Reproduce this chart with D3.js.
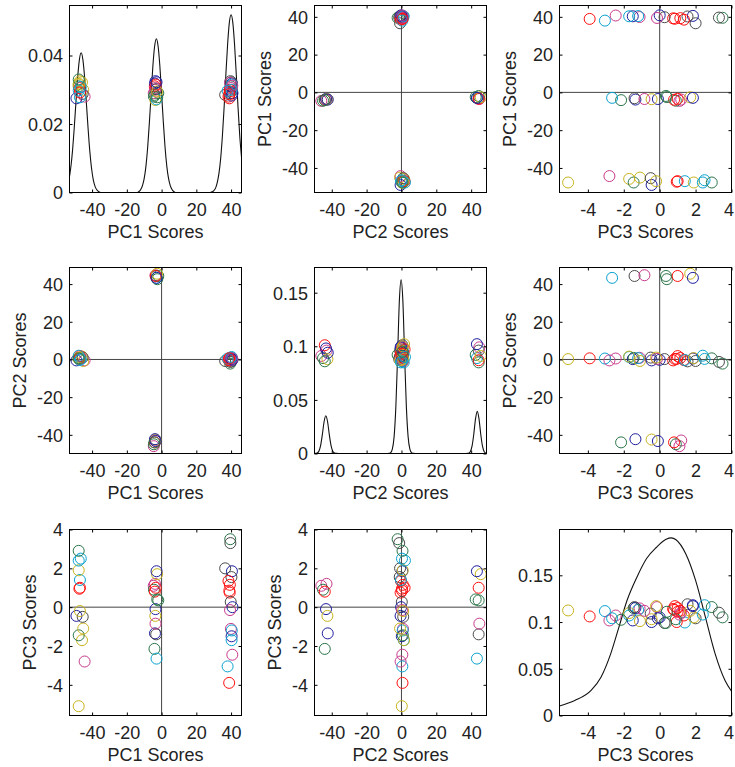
<!DOCTYPE html>
<html><head><meta charset="utf-8">
<script src="https://cdn.jsdelivr.net/npm/d3@7"></script>
<style>
body{margin:0;background:#fff}
svg{display:block}
text{font-family:"Liberation Sans",Arial,Helvetica,sans-serif}
</style>
</head><body>
<svg id="chart" width="735" height="767"></svg>
<script>
// ---------- DATA ----------
// Order: cluster A (PC1~40), cluster B (PC1~-47), cluster C (PC2~-43), cluster D (PC2~43)
const pc1 = [39.5,39.6,36.6,40.5,40.2,38.5,39.3,39.0,39.2,39.8,40.8,39.4,39.9,40.4,40.3,40.3,40.7,38.0,38.9,
  -47.7,-44.3,-45.8,-47.7,-45.1,-45.4,-49.0,-47.0,-47.3,-47.0,-47.0,-47.7,-47.7,-46.5,-47.7,
  -3.8,-4.5,-4.4,-3.9,-3.5,-3.6,-3.8,-4.1,
  -2.9,-3.1,-3.5,-1.9,-2.5,-3.4,-2.6,-2.9];
const pc2 = [-2.2,-1.3,-0.8,0.5,-1.0,-0.3,0.8,0.3,-0.5,0.2,-0.2,0.3,0.9,0.7,0.2,1.3,0.5,0.5,0.6,
  0.2,-0.5,1.5,0.8,-0.8,1.0,-0.5,1.0,0.3,1.8,-0.3,0.7,2.0,0.3,0.6,
  -43.0,-46.0,-45.0,-44.0,-43.3,-42.5,-42.3,-44.0,
  43.3,44.3,44.7,44.3,42.6,44.3,45.5,43.3];
const pc3 = [3.5,3.3,2.0,1.85,1.55,1.35,1.15,0.85,0.75,0.27,0.0,-0.15,-1.12,-1.2,-1.5,-1.7,-2.45,-3.05,-3.9,
  -5.1,-2.8,-1.7,-1.45,-1.1,-0.5,-0.45,-0.2,0.95,1.0,1.4,1.9,2.4,2.5,2.9,
  1.2,1.1,0.9,0.8,-0.1,-0.45,-1.35,-2.15,
  -2.65,-1.4,-0.85,0.35,0.4,1.0,1.7,1.85];
const grp = ["g","k","k","b","k","r","r","r","r","k","b","m","m","c","b","c","m","c","r",
  "y","m","y","g","y","k","b","y","r","r","c","y","c","c","g",
  "m","m","g","r","b","y","b","g",
  "c","k","m","g","g","r","y","b"];
// vertical positions of the points in the three density panels
const diag1Y = [0.0290,0.0325,0.0285,0.0318,0.0322,0.0280,0.0295,0.0275,0.0300,0.0310,0.0290,0.0320,0.0305,0.0315,0.0283,0.0300,0.0312,0.0297,0.0287,
  0.0318,0.0280,0.0322,0.0310,0.0300,0.0288,0.0275,0.0325,0.0305,0.0292,0.0278,0.0315,0.0298,0.0308,0.0330,
  0.0300,0.0290,0.0280,0.0310,0.0325,0.0270,0.0318,0.0285,
  0.0272,0.0302,0.0305,0.0290,0.0278,0.0315,0.0295,0.0322];
const diag2Y = [0.092,0.088,0.096,0.101,0.090,0.094,0.086,0.098,0.092,0.089,0.100,0.095,0.087,0.097,0.091,0.085,0.099,0.093,0.090,
  0.096,0.089,0.102,0.091,0.087,0.094,0.099,0.088,0.093,0.097,0.085,0.100,0.090,0.086,0.095,
  0.096,0.091,0.089,0.101,0.098,0.088,0.094,0.086,
  0.089,0.096,0.099,0.085,0.092,0.087,0.091,0.102];
const diag3Y = [0.105,0.110,0.104,0.118,0.119,0.107,0.112,0.117,0.114,0.099,0.105,0.116,0.1146,0.113,0.1017,0.107,0.107,0.1117,0.106,
  0.1124,0.1017,0.1096,0.115,0.101,0.109,0.100,0.117,0.100,0.111,0.0995,0.105,0.108,0.118,0.116,
  0.110,0.108,0.103,0.113,0.104,0.103,0.115,0.1024,
  0.104,0.116,0.112,0.099,0.111,0.115,0.112,0.117];
// density curves
const dens1X = [-53,-52,-51.3,-50.3,-49.3,-48.3,-47.3,-46.3,-45.3,-44.3,-43.3,-42.3,-41.3,-40.3,-39.3,-38.3,-37.3,-36.3,-35,
  -14,-13,-12,-11,-10,-9,-8,-7,-6,-5,-4,-3,-2,-1,0,1,2,3,4,5,6,7,8,
  28,29,30,31,32,33,34,35,36,37,38,39,40,41,42,43,44,45,46];
const dens1Y = [0.0046,0.0084,0.0120,0.0187,0.0263,0.0336,0.0388,0.0408,0.0388,0.0336,0.0263,0.0187,0.0120,0.0070,0.0037,0.0018,0.0008,0.0003,0,
  0,0.0003,0.0009,0.0020,0.0041,0.0077,0.0132,0.0206,0.0289,0.0370,0.0427,0.0449,0.0427,0.0370,0.0289,0.0206,0.0132,0.0077,0.0041,0.0020,0.0009,0.0003,0,
  0,0.0002,0.0005,0.0012,0.0028,0.0055,0.0099,0.0165,0.0249,0.0344,0.0432,0.0496,0.0519,0.0496,0.0432,0.0344,0.0249,0.0165,0.0104];
const dens2X = [-49.9,-49,-48.4,-47.4,-46.4,-45.4,-44.4,-43.4,-42.4,-41.4,-40.4,-39.4,-38.4,-37.4,-36,
  -8,-7.2,-6.2,-5.2,-4.2,-3.2,-2.2,-1.2,-0.2,0.8,1.8,2.8,3.8,4.8,5.8,6.8,8,
  37,38,38.5,39.5,40.5,41.5,42.5,43.5,44.5,45.5,46.5,47.5,48.5,48.8];
const dens2Y = [0,0.0002,0.0005,0.0022,0.0074,0.0176,0.0296,0.0352,0.0296,0.0176,0.0074,0.0022,0.0005,0.0001,0,
  0,0.0001,0.0008,0.0043,0.016,0.0442,0.0919,0.1426,0.162,0.1426,0.0919,0.0442,0.016,0.0043,0.0008,0.0001,0,
  0,0.0001,0.0003,0.0017,0.0068,0.018,0.0323,0.0393,0.0323,0.018,0.0068,0.0017,0.0003,0.0002];
const dens3X = [-5.58,-4.73,-3.82,-3.27,-2.73,-2.27,-1.82,-1.27,-0.73,-0.18,0.36,0.64,0.91,1.45,2.0,2.55,3.09,3.64,4.0];
const dens3Y = [0.0102,0.016,0.0268,0.041,0.066,0.0946,0.123,0.148,0.168,0.180,0.1885,0.190,0.188,0.173,0.1445,0.105,0.066,0.0375,0.026];

const varNames = ["PC1 Scores","PC2 Scores","PC3 Scores"];
const scoreTicks = [-40,-20,0,20,40];
const pc3Ticks = [-4,-2,0,2,4];
const dens1Ticks = [0,0.02,0.04];
const dens2Ticks = [0,0.05,0.1,0.15];
const dens3Ticks = [0,0.05,0.1,0.15];

// ---------- STYLE / LAYOUT ----------
const colorMap = {r:"#ff1010", c:"#0aa2cf", m:"#c83a8c", b:"#1e1e9e", k:"#4a4a4a", g:"#2b7649", y:"#c9b41e"};
const colX = [69,314,559], rowY = [5,267,529], W = 172, H = [187,186,186];
const varDomains = [[-53,46],[-49.9,48.8],[-5.58,4.0]];
const densDomains = [[0,0.0546],[0,0.1735],[0,0.199]];
const FS = 18;
const SVG_W = 735;

const vars = [pc1,pc2,pc3];
const diagY = [diag1Y,diag2Y,diag3Y];
const densX = [dens1X,dens2X,dens3X], densY = [dens1Y,dens2Y,dens3Y];
const varTicks = [scoreTicks,scoreTicks,pc3Ticks];
const densTicks = [dens1Ticks,dens2Ticks,dens3Ticks];
const ylabOffset = [44,44,34];

const svg = d3.select("#chart");
const fmt = d => String(d);

for (let i=0;i<3;i++){
  for (let j=0;j<3;j++){
    const x0 = colX[j], y0 = rowY[i], h = H[i];
    const g = svg.append("g").attr("transform",`translate(${x0+0.5},${y0+0.5})`);
    const xs = d3.scaleLinear().domain(varDomains[j]).range([0,W]);
    const isDiag = i===j;
    const ys = d3.scaleLinear().domain(isDiag?densDomains[i]:varDomains[i]).range([h,0]);
    const clipId = `clip${i}${j}`;
    g.append("clipPath").attr("id",clipId).append("rect").attr("width",W).attr("height",h);
    const plot = g.append("g").attr("clip-path",`url(#${clipId})`);

    // axes
    const xt = varTicks[j], yt = isDiag?densTicks[i]:varTicks[i];
    const ax = g.append("g").attr("transform",`translate(0,${h})`)
      .call(d3.axisBottom(xs).tickValues(xt).tickFormat(fmt).tickSize(-3).tickPadding(11.2));
    const ay = g.append("g")
      .call(d3.axisLeft(ys).tickValues(yt).tickFormat(fmt).tickSize(-3).tickPadding(6.5));
    const at = g.append("g").call(d3.axisTop(xs).tickValues(xt).tickFormat("").tickSize(-3));
    const ar = g.append("g").attr("transform",`translate(${W},0)`)
      .call(d3.axisRight(ys).tickValues(yt).tickFormat("").tickSize(-3));
    [ax,ay,at,ar].forEach(a=>{
      a.attr("font-family",null).attr("font-size",null);
      a.select(".domain").remove();
      a.selectAll("line").attr("stroke","#000");
      a.selectAll("text").attr("fill","#222").style("font-size",FS+"px");
    });
    ay.selectAll("text").attr("dy","0.35em");
    // keep the right-most tick label inside the page
    ax.selectAll("text").each(function(){
      const bb = this.getBBox();
      const ctm = this.getCTM();
      const right = ctm.e + bb.x + bb.width;
      if (right > SVG_W - 1) d3.select(this).attr("dx", (SVG_W - 1 - right));
    });

    if (!isDiag){
      // zero lines
      plot.append("line").attr("x1",xs(0)).attr("x2",xs(0)).attr("y1",0).attr("y2",h)
        .attr("stroke","#444").attr("stroke-width",1);
      plot.append("line").attr("x1",0).attr("x2",W).attr("y1",ys(0)).attr("y2",ys(0))
        .attr("stroke","#444").attr("stroke-width",1);
    } else {
      const line = d3.line().x(d=>xs(d[0])).y(d=>ys(d[1])).curve(d3.curveMonotoneX);
      const pts = densX[i].map((v,k)=>[v,densY[i][k]]);
      plot.append("path").attr("d",line(pts)).attr("fill","none").attr("stroke","#111").attr("stroke-width",1.1);
    }

    // points
    const idx = d3.range(pc1.length);
    plot.selectAll("circle.pt").data(idx).enter().append("circle")
      .attr("class","pt")
      .attr("cx",k=>xs(vars[j][k]))
      .attr("cy",k=>isDiag?ys(diagY[i][k]):ys(vars[i][k]))
      .attr("r",5.5)
      .attr("fill","none")
      .attr("stroke",k=>colorMap[grp[k]])
      .attr("stroke-width",1);

    // box
    g.append("rect").attr("width",W).attr("height",h).attr("fill","none").attr("stroke","#000").attr("stroke-width",1);

    // x label
    g.append("text").attr("x",W/2).attr("y",h+45).attr("text-anchor","middle")
      .attr("fill","#222").style("font-size",FS+"px").text(varNames[j]);
    // y label
    if (!isDiag){
      g.append("text").attr("transform",`translate(${-ylabOffset[i]},${h/2}) rotate(-90)`)
        .attr("text-anchor","middle").attr("fill","#222").style("font-size",FS+"px").text(varNames[i]);
    }
  }
}
</script>
</body></html>
